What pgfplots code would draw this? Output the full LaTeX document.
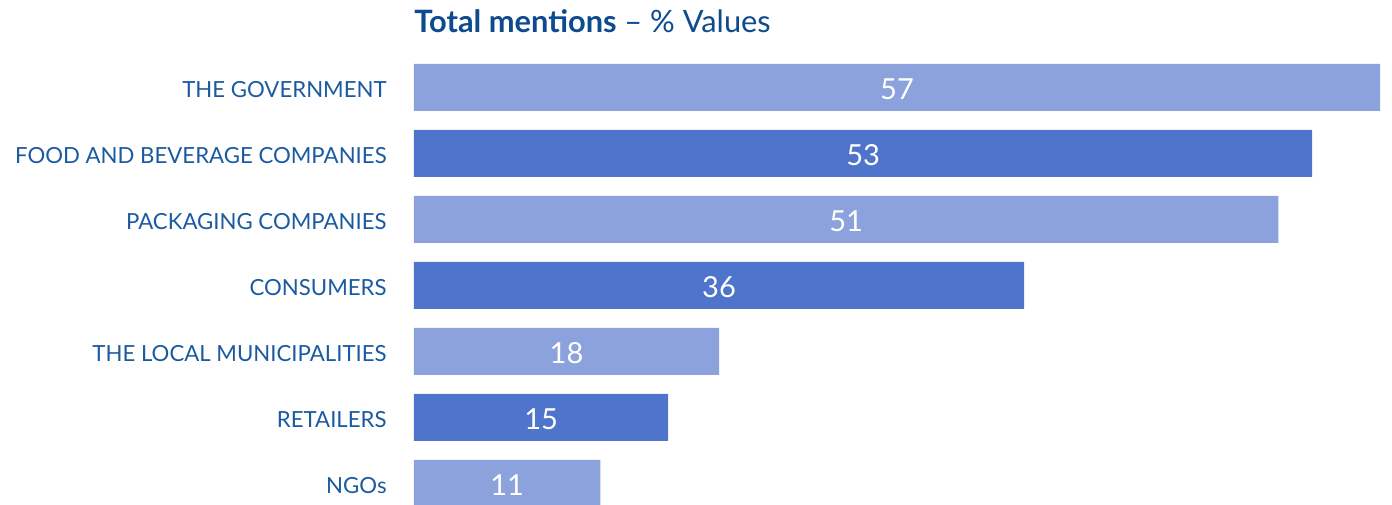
\documentclass[border=0pt]{standalone}
\usepackage{fontspec}
\setmainfont{Lato}
\usepackage{pgfplots}
\usepackage{pgfplotstable}
\pgfplotsset{compat=1.18}
\definecolor{lightbar}{HTML}{8BA2DC}
\definecolor{darkbar}{HTML}{4F74CC}
\definecolor{labblue}{HTML}{1B5AA0}
\definecolor{titleblue}{HTML}{0D4A8E}
\pgfplotstableread{
idx v
0 57
2 51
4 18
6 11
}\lightdata
\pgfplotstableread{
idx v
1 53
3 36
5 15
}\darkdata
\pgfplotstableread{
idx v
0 57
1 53
2 51
3 36
4 18
5 15
6 11
}\alldata
\begin{document}
\begin{tikzpicture}[x=1pt,y=1pt]
\useasboundingbox (0,0) rectangle (696,252);
\begin{axis}[at={(207pt,0pt)}, anchor=south west, scale only axis,
  width=483pt, height=220pt,
  xmin=0, xmax=57, ymin=-0.356, ymax=6.311, y dir=reverse,
  axis line style={draw=none}, tick style={draw=none},
  xtick=\empty, ytick={0,...,6},
  yticklabels={THE GOVERNMENT, FOOD AND BEVERAGE COMPANIES, PACKAGING COMPANIES, CONSUMERS, THE LOCAL MUNICIPALITIES, RETAILERS, NGOs},
  yticklabel style={font=\fontsize{11.1}{13}\selectfont, text=labblue, inner sep=0pt, anchor=east, xshift=-13.5pt, yshift=-0.8pt},
]
\addplot[xbar, bar width=23.5pt, bar shift=0pt, fill=lightbar, draw=none] table[x=v, y=idx] {\lightdata};
\addplot[xbar, bar width=23.5pt, bar shift=0pt, fill=darkbar, draw=none] table[x=v, y=idx] {\darkdata};
\addplot[draw=none, only marks, mark=none, nodes near coords, point meta=explicit symbolic,
  nodes near coords align={center},
  every node near coord/.append style={anchor=center, text=white, font=\fontsize{14.5}{16}\selectfont, inner sep=0pt, yshift=-1pt}]
  table[x expr=\thisrow{v}/2, y=idx, meta=v] {\alldata};
\end{axis}
\node[anchor=base west, inner sep=0pt, text=titleblue, font=\fontsize{15.4}{18}\selectfont] at (207,235.5) {\textbf{Total mentions} – \% Values};
\end{tikzpicture}
\end{document}
